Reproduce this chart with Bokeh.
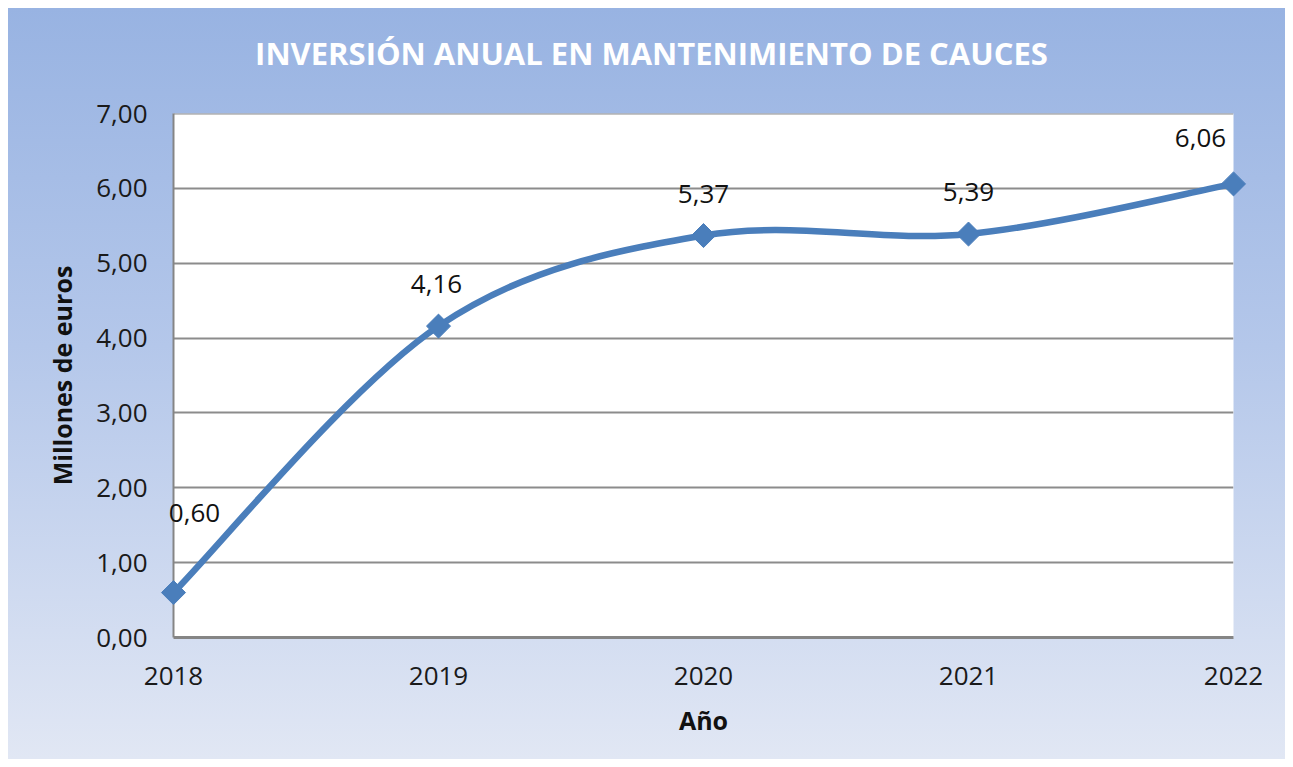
import numpy as np
from bokeh.plotting import figure
from bokeh.models import FixedTicker, Range1d
from bokeh.core.properties import value
from bokeh.embed import file_html
from bokeh.resources import INLINE

# ---- data ----
years = [2018, 2019, 2020, 2021, 2022]
values = [0.60, 4.16, 5.37, 5.39, 6.06]
value_labels = ["0,60", "4,16", "5,37", "5,39", "6,06"]
x_tick_labels = ["2018", "2019", "2020", "2021", "2022"]
y_ticks = [0, 1, 2, 3, 4, 5, 6, 7]
y_tick_labels = ["0,00", "1,00", "2,00", "3,00", "4,00", "5,00", "6,00", "7,00"]
title_text = "INVERSIÓN ANUAL EN MANTENIMIENTO DE CAUCES"
x_title = "Año"
y_title = "Millones de euros"

# label offsets (screen px) - style
label_dx = [21, -2, 0, 0, -33]
label_dy = [-80, -42, -42, -42, -46]

FONT = "Open Sans"
LINE_COLOR = "#4a7ebb"
GRID = "#8c8c8c"

p = figure(width=1277, height=751, output_backend="svg", toolbar_location=None,
           x_range=Range1d(years[0], years[-1]), y_range=Range1d(0, 7.0005),
           min_border_left=165, min_border_right=52, min_border_top=105, min_border_bottom=122)
p.margin = (8, 8, 8, 8)

p.styles = {"background": "linear-gradient(to bottom, #98b3e2 0%, #b4c7ea 45%, #e1e7f4 100%)"}
p.border_fill_alpha = 0
p.background_fill_color = "white"
p.outline_line_alpha = 0

# grid
p.xgrid.visible = False
p.ygrid.ticker = FixedTicker(ticks=y_ticks)
p.ygrid.grid_line_color = GRID
p.ygrid.grid_line_width = 2

# axes
p.xaxis.ticker = FixedTicker(ticks=years)
p.xaxis.major_label_overrides = {y: l for y, l in zip(years, x_tick_labels)}
p.yaxis.ticker = FixedTicker(ticks=y_ticks)
p.yaxis.major_label_overrides = {t: l for t, l in zip(y_ticks, y_tick_labels)}
for ax in (p.xaxis[0], p.yaxis[0]):
    ax.major_tick_in = 0
    ax.major_tick_out = 0
    ax.minor_tick_in = 0
    ax.minor_tick_out = 0
    ax.major_label_text_font = FONT
    ax.major_label_text_font_size = "26px"
    ax.major_label_text_color = "#1a1a1a"
    ax.axis_label_text_font = FONT
    ax.axis_label_text_font_size = "25px"
    ax.axis_label_text_font_style = "bold"
    ax.axis_label_text_color = "#111111"
    ax.axis_line_color = "#858585"
p.xaxis.axis_line_width = 3
p.yaxis.axis_line_width = 2
p.xaxis.axis_label = x_title
p.yaxis.axis_label = y_title
p.xaxis.major_label_standoff = 29
p.xaxis.axis_label_standoff = 15
p.yaxis.major_label_standoff = 26
p.yaxis.axis_label_standoff = 14

# smoothed line (Excel-style bezier smoothing computed from the data)
n = len(years)
x0, y0, x1, y1, cx0, cy0, cx1, cy1 = [], [], [], [], [], [], [], []
for i in range(n - 1):
    a = i - 1 if i > 0 else i
    d = i + 2 if i + 2 < n else i + 1
    x0.append(years[i]); y0.append(values[i])
    x1.append(years[i + 1]); y1.append(values[i + 1])
    cx0.append(years[i] + (years[i + 1] - years[a]) / 6)
    cy0.append(values[i] + (values[i + 1] - values[a]) / 6)
    cx1.append(years[i + 1] - (years[d] - years[i]) / 6)
    cy1.append(values[i + 1] - (values[d] - values[i]) / 6)
p.bezier(x0=x0, y0=y0, x1=x1, y1=y1, cx0=cx0, cy0=cy0, cx1=cx1, cy1=cy1,
         line_color=LINE_COLOR, line_width=6.5, line_cap="round", level="overlay")

p.scatter(years, values, marker="square", angle=np.pi / 4, size=17,
          fill_color=LINE_COLOR, line_color=LINE_COLOR, level="overlay")

p.text(x=years, y=values, text=value_labels, x_offset=label_dx, y_offset=label_dy,
       text_align="center", text_baseline="middle", text_font=value(FONT),
       text_font_size="26px", text_color="#111111", level="overlay")

# title anchored to the top-left corner of the plot area, offset in pixels
p.text(x=[years[0]], y=[y_ticks[-1]], text=[title_text], x_offset=478, y_offset=-61,
       text_align="center", text_baseline="middle", text_font=value(FONT),
       text_font_size="31px", text_font_style="bold", text_color="white",
       level="overlay")

open("out.html", "w").write(file_html(p, INLINE))
